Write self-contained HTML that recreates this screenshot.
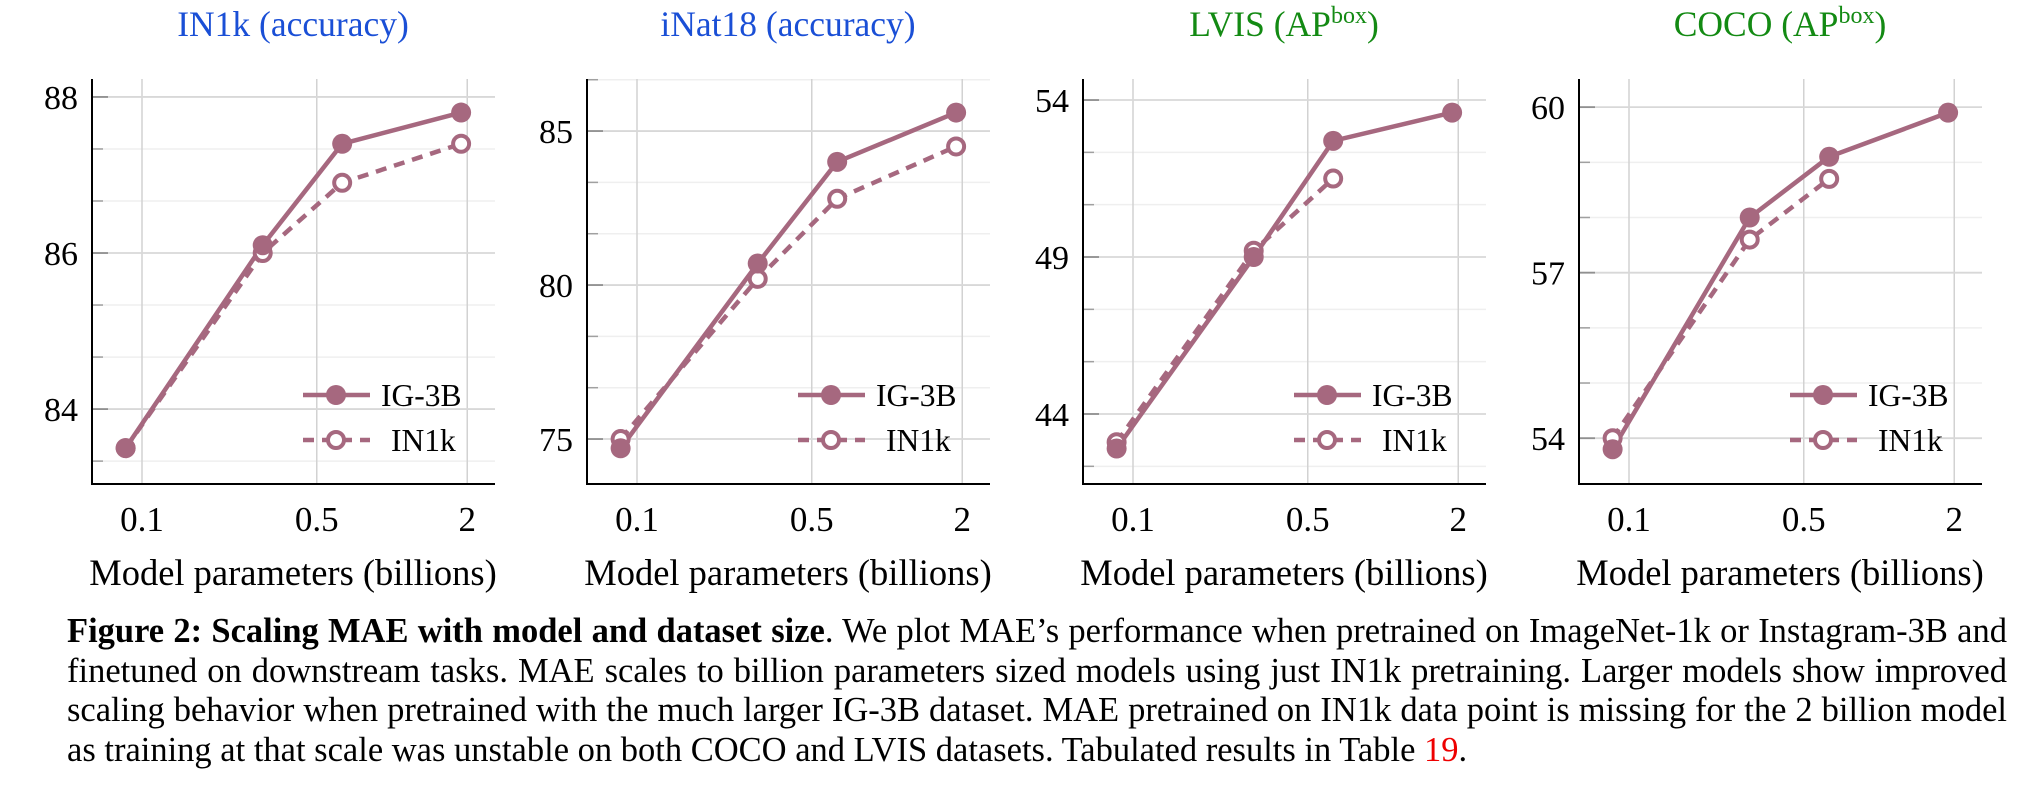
<!DOCTYPE html>
<html><head><meta charset="utf-8">
<style>
html,body{margin:0;padding:0;background:#fff;}
body{width:2027px;height:798px;position:relative;overflow:hidden;font-family:"Liberation Serif",serif;}
#fig{position:absolute;left:0;top:0;font-family:"Liberation Serif",serif;}
#fig text{font-family:"Liberation Serif",serif;}
.cap{position:absolute;left:67px;width:1940px;font-size:34.5px;line-height:39.5px;color:#000;font-family:"Liberation Serif",serif;}
.cap div{text-align:justify;text-align-last:justify;white-space:nowrap;}
.cap div.last{text-align-last:left;}
</style></head>
<body>
<svg id="fig" width="2027" height="600" font-family="Liberation Serif, serif" xmlns="http://www.w3.org/2000/svg"></svg>
<div class="cap" style="top:612px;">
<div><b>Figure 2: Scaling MAE with model and dataset size</b>. We plot MAE’s performance when pretrained on ImageNet-1k or Instagram-3B and</div>
<div>finetuned on downstream tasks. MAE scales to billion parameters sized models using just IN1k pretraining. Larger models show improved</div>
<div>scaling behavior when pretrained with the much larger IG-3B dataset. MAE pretrained on IN1k data point is missing for the 2 billion model</div>
<div class="last">as training at that scale was unstable on both COCO and LVIS datasets. Tabulated results in Table <span style="color:#e00">19</span>.</div>
</div>
<script>
const modelSizes = [0.086, 0.304, 0.632, 1.89];
const xTicks = [0.1, 0.5, 2];
const xTickLabels = ["0.1", "0.5", "2"];
const in1kAccIG = [83.5, 86.1, 87.4, 87.8];
const in1kAccIN = [83.5, 86.0, 86.9, 87.4];
const inatAccIG = [74.7, 80.7, 84.0, 85.6];
const inatAccIN = [75.0, 80.2, 82.8, 84.5];
const lvisApIG = [42.9, 49.0, 52.7, 53.6];
const lvisApIN = [43.1, 49.2, 51.5];
const cocoApIG = [53.8, 58.0, 59.1, 59.9];
const cocoApIN = [54.0, 57.6, 58.7];
const in1kTicks = [84, 86, 88];
const inatTicks = [75, 80, 85];
const lvisTicks = [44, 49, 54];
const cocoTicks = [54, 57, 60];

const NS = "http://www.w3.org/2000/svg";
const svg = document.getElementById("fig");
const COL = "#a6687f";
const FF = "Liberation Serif, serif";
function mk(tag, attrs, parent) {
  const e = document.createElementNS(NS, tag);
  for (const k in attrs) e.setAttribute(k, attrs[k]);
  if (tag === "text") e.setAttribute("font-family", FF);
  (parent || svg).appendChild(e);
  return e;
}
const panels = [
  {key:"in1k", title:"IN1k (accuracy)", sup:null, color:"#1a4fd6", left:92, dom:[83.04, 88.23], ticks:in1kTicks, minor:3, ig:in1kAccIG, inn:in1kAccIN},
  {key:"inat", title:"iNat18 (accuracy)", sup:null, color:"#1a4fd6", left:587, dom:[73.54, 86.69], ticks:inatTicks, minor:3, ig:inatAccIG, inn:inatAccIN},
  {key:"lvis", title:"LVIS (AP", sup:"box", color:"#138a13", left:1083, dom:[41.77, 54.67], ticks:lvisTicks, minor:3, ig:lvisApIG, inn:lvisApIN},
  {key:"coco", title:"COCO (AP", sup:"box", color:"#138a13", left:1579, dom:[53.17, 60.51], ticks:cocoTicks, minor:3, ig:cocoApIG, inn:cocoApIN}
];
const TOP = 79, BOT = 484, W = 403;

panels.forEach(p => {
  const g = mk("g", {});
  
  
  const L = p.left, R = p.left + W;
  const xs = v => L + 50 + 250 * Math.log10(v / 0.1);
  const ys = v => BOT - (v - p.dom[0]) / (p.dom[1] - p.dom[0]) * (BOT - TOP);
  const step = (p.ticks[1] - p.ticks[0]) / p.minor;
  for (let v = p.ticks[0] - 3 * step; v <= p.dom[1]; v += step) {
    const y = ys(v);
    if (y < TOP || y > BOT - 2) continue;
    const isMajor = p.ticks.some(t => Math.abs(t - v) < 1e-6);
    if (isMajor) continue;
    const mg = mk("line", {x1:L, x2:R, y1:y, y2:y, stroke:"#efefef", "stroke-width":1.5}, g);
    
    
    mk("line", {x1:L, x2:L+11, y1:y, y2:y, stroke:"#a0a0a0", "stroke-width":1.5}, g);
  }
  xTicks.forEach((t, i) => {
    const x = xs(t);
    const vg = mk("line", {x1:x, x2:x, y1:TOP, y2:BOT, stroke:"#d2d2d2", "stroke-width":1.5}, g);
    
    
    const tl = mk("text", {x:x, y:531, "text-anchor":"middle", "font-size":35, fill:"#000"}, g);
    
    
    tl.textContent = xTickLabels[i];
  });
  p.ticks.forEach(t => {
    const y = ys(t);
    const hg = mk("line", {x1:L, x2:R, y1:y, y2:y, stroke:"#d8d8d8", "stroke-width":1.8}, g);
    
    
    mk("line", {x1:L, x2:L+16, y1:y, y2:y, stroke:"#909090", "stroke-width":1.8}, g);
    const tl = mk("text", {x:L-14, y:y+12, "text-anchor":"end", "font-size":34, fill:"#000"}, g);
    
    
    tl.textContent = String(t);
  });
  const ya = mk("line", {x1:L, x2:L, y1:TOP, y2:BOT+1, stroke:"#000", "stroke-width":2}, g);
  
  
  const xa = mk("line", {x1:L-1, x2:R, y1:BOT, y2:BOT, stroke:"#000", "stroke-width":2}, g);
  
  
  const tt = mk("text", {x:L+201, y:36, "text-anchor":"middle", "font-size":35.5, fill:p.color}, g);
  
  
  tt.textContent = p.title;
  if (p.sup) {
    const s = mk("tspan", {"font-size":24, dy:-13}, tt); s.textContent = p.sup;
    const c = mk("tspan", {"font-size":35.5, dy:13}, tt); c.textContent = ")";
  }
  const xt = mk("text", {x:L+201, y:585, "text-anchor":"middle", "font-size":36.5, fill:"#000"}, g);
  
  
  xt.textContent = "Model parameters (billions)";
  const ptsIN = p.inn.map((v, i) => xs(modelSizes[i]) + "," + ys(v)).join(" ");
  const ptsIG = p.ig.map((v, i) => xs(modelSizes[i]) + "," + ys(v)).join(" ");
  const lin = mk("polyline", {points:ptsIN, fill:"none", stroke:COL, "stroke-width":4.5, "stroke-dasharray":"11 8"}, g);
  
  
  const lig = mk("polyline", {points:ptsIG, fill:"none", stroke:COL, "stroke-width":4.5}, g);
  
  
  p.inn.forEach((v, i) => {
    const c = mk("circle", {cx:xs(modelSizes[i]), cy:ys(v), r:8, fill:"#fff", stroke:COL, "stroke-width":4}, g);
    
    
  });
  p.ig.forEach((v, i) => {
    const c = mk("circle", {cx:xs(modelSizes[i]), cy:ys(v), r:10, fill:COL}, g);
    
    
  });
  const lg = mk("g", {}, g);
  
  
  const y1 = 395, y2 = 440;
  mk("line", {x1:R-192, x2:R-125, y1:y1, y2:y1, stroke:COL, "stroke-width":4.5}, lg);
  mk("circle", {cx:R-159, cy:y1, r:10, fill:COL}, lg);
  const t1 = mk("text", {x:R-114, y:y1+11, "font-size":31.5, fill:"#000"}, lg);
  
  
  t1.textContent = "IG-3B";
  mk("line", {x1:R-192, x2:R-125, y1:y2, y2:y2, stroke:COL, "stroke-width":4.5, "stroke-dasharray":"11 8"}, lg);
  mk("circle", {cx:R-159, cy:y2, r:8, fill:"#fff", stroke:COL, "stroke-width":4}, lg);
  const t2 = mk("text", {x:R-104, y:y2+11, "font-size":31.5, fill:"#000"}, lg);
  
  
  t2.textContent = "IN1k";
});
</script>
</body></html>
